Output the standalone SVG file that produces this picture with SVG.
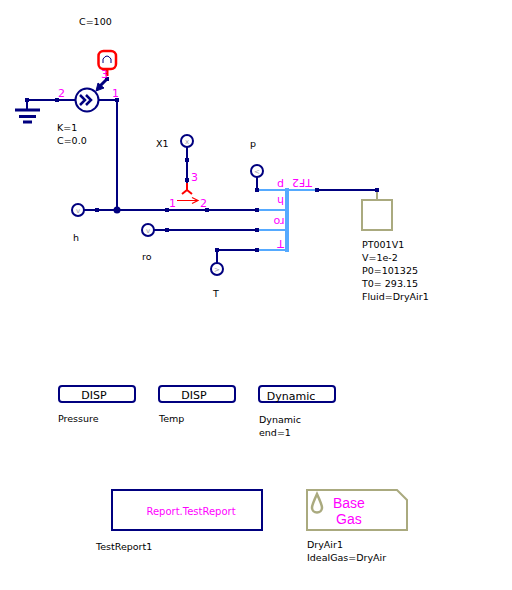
<svg xmlns="http://www.w3.org/2000/svg" width="512" height="590" viewBox="0 0 512 590">
<style>
text{font-family:"DejaVu Sans","Liberation Sans",sans-serif;font-size:9.5px;fill:#000}
text.m{fill:#ff00ff;font-size:11px}
text.rep{fill:#ff00ff;font-size:10px;font-family:"DejaVu Sans",sans-serif}
text.big{fill:#ff00ff;font-size:14px;font-family:"Liberation Sans",sans-serif}
text.d{font-size:11px}
.w{fill:none;stroke:#00007f;stroke-width:2}
.t{fill:none;stroke:#00007f;stroke-width:3}
.b{fill:none;stroke:#55aaff;stroke-width:2}
.r{fill:none;stroke:#ff0000;stroke-width:2}
.o{fill:#ffffff;stroke:#00007f;stroke-width:2}
.g{fill:none;stroke:#aaaa7f;stroke-width:2}
.box{fill:none;stroke:#00007f;stroke-width:2}
text.gl{font-size:7px;fill:#9a9aaa;text-anchor:middle}
</style>
<rect width="512" height="590" fill="#ffffff"/>
<g id="connectors">
<path class="w" d="M27 100H75M99 100H117V210M84 210H257M154 230H257M217 263V250H257M257 177V190M317 190H377M187 147V183"/>
<path class="b" d="M257 190H287M257 210H287M257 230H287M257 250H287M287 190H317"/>
<path d="M287 188V252" fill="none" stroke="#55aaff" stroke-width="4"/>
<path class="g" d="M377 190V200"/>
<path class="t" d="M107 79L100 86"/>
<path d="M96 91L98 83L104 88Z" fill="#00007f" stroke="#00007f"/>
<path d="M107 69V76" fill="none" stroke="#ff0000" stroke-width="3"/>
<g fill="#00007f">
<rect x="25" y="98" width="4" height="4"/><rect x="55" y="98" width="4" height="4"/><rect x="115" y="98" width="4" height="4"/><rect x="105" y="77" width="4" height="4"/>
<rect x="95" y="208" width="4" height="4"/><rect x="165" y="208" width="4" height="4"/><rect x="205" y="208" width="4" height="4"/><rect x="255" y="208" width="4" height="4"/>
<rect x="165" y="228" width="4" height="4"/><rect x="255" y="228" width="4" height="4"/><rect x="215" y="248" width="4" height="4"/><rect x="255" y="248" width="4" height="4"/>
<rect x="255" y="188" width="4" height="4"/><rect x="315" y="188" width="4" height="4"/><rect x="375" y="188" width="4" height="4"/>
<rect x="185" y="158" width="4" height="4"/><rect x="185" y="178" width="4" height="4"/>
<circle cx="117" cy="210" r="3.5"/>
</g>
</g>
<g id="ground"><path class="w" d="M27 100V109"/><path class="t" d="M15 110H40M19 116.500H36M23 122H32"/></g>
<g id="valve">
<circle class="o" cx="87" cy="100" r="11.500"/>
<path class="t" d="M80 95L85 100L80 105M86 95L91 100L86 105" style="stroke-width:2.500"/>
<text class="m" x="58" y="97">2</text><text class="m" x="112" y="97">1</text><text class="m" x="101" y="78">3</text>
<text x="57" y="131">K=1</text><text x="57" y="144">C=0.0</text>
</g>
<g id="source">
<rect x="98.500" y="51" width="17.500" height="18" rx="5" fill="#fff" stroke="#ff0000" stroke-width="2.500"/>
<path d="M103 63V59Q107 53 111 59V63" fill="none" stroke="#00007f"/>
<text x="79" y="25">C=100</text>
</g>
<g id="X1"><circle class="o" cx="187" cy="141" r="6"/><text class="gl" x="187" y="143.500">x</text><text x="156" y="147">X1</text></g>
<g id="split">
<path class="r" d="M187 183V190M187 190L182 194M187 190L192 194"/>
<path d="M177 200.500H197M192 197.500L198 200.500L192 203.500" fill="none" stroke="#ff0000" stroke-width="1.200"/>
<text class="m" x="191" y="181">3</text><text class="m" x="169" y="207">1</text><text class="m" x="200" y="207">2</text>
</g>
<g id="h"><circle class="o" cx="78" cy="210" r="6"/><text class="gl" x="78" y="212.500">v</text><text x="73" y="241">h</text></g>
<g id="ro"><circle class="o" cx="148" cy="230" r="6"/><text class="gl" x="148" y="232.500">v</text><text x="142" y="260">ro</text></g>
<g id="T"><circle class="o" cx="217" cy="269" r="6"/><text class="gl" x="217" y="271.500">&gt;</text><text x="213" y="297">T</text></g>
<g id="p"><circle class="o" cx="257" cy="171" r="6"/><text class="gl" x="257" y="173.500">&lt;</text><text x="250" y="147">p</text></g>
<g id="bus">
<text class="m" transform="rotate(180 280.500 181)" x="280.500" y="181" text-anchor="middle">p</text>
<text class="m" transform="rotate(180 302 179)" x="302" y="179" text-anchor="middle">TF2</text>
<text class="m" transform="rotate(180 280.500 197)" x="280.500" y="197" text-anchor="middle">h</text>
<text class="m" transform="rotate(180 279 218)" x="279" y="218" text-anchor="middle">ro</text>
<text class="m" transform="rotate(180 280.500 240)" x="280.500" y="240" text-anchor="middle">T</text>
</g>
<g id="PT001V1">
<rect class="g" x="362" y="200" width="30" height="30"/>
<text x="362" y="248">PT001V1</text><text x="362" y="261">V=1e-2</text><text x="362" y="274">P0=101325</text><text x="362" y="287">T0= 293.15</text><text x="362" y="300">Fluid=DryAir1</text>
</g>
<g id="Pressure"><rect class="box" x="59" y="386" width="76" height="16" rx="3"/><text class="d" x="94" y="398.500" text-anchor="middle">DISP</text><text x="58" y="422">Pressure</text></g>
<g id="Temp"><rect class="box" x="159" y="386" width="76" height="16" rx="3"/><text class="d" x="194" y="398.500" text-anchor="middle">DISP</text><text x="159" y="422">Temp</text></g>
<g id="Dynamic"><rect class="box" x="259" y="386" width="76" height="16" rx="3"/><text class="d" x="291" y="400" text-anchor="middle">Dynamic</text><text x="259" y="423">Dynamic</text><text x="259" y="436">end=1</text></g>
<g id="TestReport1"><rect class="box" x="112" y="490" width="150" height="40"/><text class="rep" x="191" y="515" text-anchor="middle">Report.TestReport</text><text x="96" y="550">TestReport1</text></g>
<g id="DryAir1">
<path class="g" d="M307 490H397L407 500V530H307Z"/>
<path d="M317 494Q312 505 312 507.500A5 5 0 0 0 322 507.500Q322 505 317 494Z" fill="none" stroke="#aaaa7f" stroke-width="2.500"/>
<text class="big" x="333" y="508">Base</text><text class="big" x="336" y="524">Gas</text>
<text x="307" y="548">DryAir1</text><text x="307" y="561">IdealGas=DryAir</text>
</g>
</svg>
